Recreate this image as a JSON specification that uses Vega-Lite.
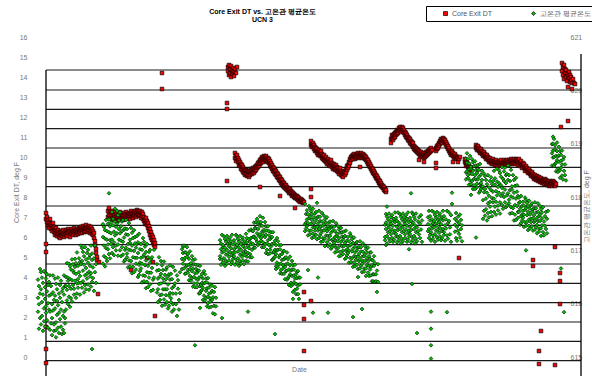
{
"$schema":"https://vega.github.io/schema/vega-lite/v6.json",
"width":535,"height":371,"autosize":"none",
"padding":{"left":46,"top":5,"right":11,"bottom":0},
"background":"white",
"config":{"view":{"stroke":null},"font":"Liberation Sans",
 "axis":{"labelColor":"#777","titleColor":"#777","labelFontSize":7,"titleFontSize":7,"titleFontWeight":"normal","grid":false},
 "axisX":{"labels":false,"ticks":false,"domain":false,"grid":false,"titleX":253,"titleY":-7,"titleBaseline":"middle"}},
"title":{"text":"Core Exit DT vs. 고온관 평균온도","subtitle":"UCN 3","frame":"group","fontSize":7,"subtitleFontSize":7,"subtitleFontWeight":"bold","color":"#000","subtitleColor":"#000","anchor":"middle","dx":-51,"offset":-18,"subtitlePadding":1,"font":"Liberation Sans","subtitleFont":"Liberation Sans"},
"datasets":{
"grid":[{"g":14.35},{"g":13.35},{"g":12.385},{"g":11.415},{"g":10.45},{"g":9.485},{"g":8.515},{"g":7.55},{"g":6.585},{"g":5.615},{"g":4.65},{"g":3.685},{"g":2.715},{"g":1.75},{"g":0.785},{"g":-0.185}],
"red":[
{"s":"C","d":0,"v":[7.2,6.9,5.65,5.25,1.5,0.4,-0.3]},
{"s":"C","d":1,"v":[6.75,7.0]},{"s":"C","d":2,"v":[6.55,6.85]},{"s":"C","d":3,"v":[6.7,6.45]},{"s":"C","d":4,"v":[6.6,6.9]},
{"s":"C","d":5,"v":[6.4,6.65]},{"s":"C","d":6,"v":[6.55,6.3]},{"s":"C","d":7,"v":[6.45,6.7]},{"s":"C","d":8,"v":[6.25,6.5]},
{"s":"C","d":9,"v":[6.35,6.1]},{"s":"C","d":10,"v":[6.2,6.45]},{"s":"C","d":11,"v":[6.05,6.3]},{"s":"C","d":12,"v":[6.15,6.35]},
{"s":"C","d":13,"v":[6.0,6.25]},{"s":"C","d":14,"v":[6.2,5.95]},{"s":"C","d":15,"v":[6.1,6.3]},{"s":"C","d":16,"v":[6.25,6.05]},
{"s":"C","d":17,"v":[6.15,6.35]},{"s":"C","d":18,"v":[6.0,6.2]},{"s":"C","d":19,"v":[6.3,6.1]},{"s":"C","d":20,"v":[6.15,6.35]},
{"s":"C","d":21,"v":[6.05,6.25]},{"s":"C","d":22,"v":[6.2,6.4]},{"s":"C","d":23,"v":[6.1,6.3]},{"s":"C","d":24,"v":[6.25,6.0]},
{"s":"C","d":25,"v":[6.35,6.15]},{"s":"C","d":26,"v":[6.2,6.4]},{"s":"C","d":27,"v":[6.1,6.3]},{"s":"C","d":28,"v":[6.25,6.45]},
{"s":"C","d":29,"v":[6.15,6.35]},{"s":"C","d":30,"v":[6.3,6.1]},{"s":"C","d":31,"v":[6.2,6.4]},{"s":"C","d":32,"v":[6.35,6.15]},
{"s":"C","d":33,"v":[6.25,6.45]},{"s":"C","d":34,"v":[6.4,6.2]},{"s":"C","d":35,"v":[6.3,6.5]},{"s":"C","d":36,"v":[6.2,6.4]},
{"s":"C","d":37,"v":[6.35,6.55]},{"s":"C","d":38,"v":[6.45,6.25]},{"s":"C","d":39,"v":[6.3,6.5]},{"s":"C","d":40,"v":[6.4,6.6]},
{"s":"C","d":41,"v":[6.25,6.45]},{"s":"C","d":42,"v":[6.5,6.3]},{"s":"C","d":43,"v":[6.35,6.55]},{"s":"C","d":44,"v":[6.45,6.2]},
{"s":"C","d":45,"v":[6.3,6.5]},{"s":"C","d":46,"v":[6.4,6.15]},{"s":"C","d":47,"v":[6.3,6.1]},{"s":"C","d":48,"v":[6.2,5.95]},
{"s":"C","d":49,"v":[5.8,5.6]},{"s":"C","d":50,"v":[5.4,5.2]},{"s":"C","d":51,"v":[5.0,4.85]},{"s":"C","d":52,"v":[3.15]},{"s":"C","d":53,"v":[4.75]},
{"s":"C","d":62,"v":[7.3,7.0]},{"s":"C","d":63,"v":[7.45,7.1]},{"s":"C","d":64,"v":[6.95,7.25]},{"s":"C","d":65,"v":[7.15,6.9]},
{"s":"C","d":66,"v":[7.3,7.05]},{"s":"C","d":67,"v":[6.95,7.2]},{"s":"C","d":68,"v":[7.1,6.85]},{"s":"C","d":69,"v":[7.25,7.0]},
{"s":"C","d":70,"v":[6.9,7.15]},{"s":"C","d":71,"v":[7.05,6.8]},{"s":"C","d":72,"v":[7.2,6.95]},{"s":"C","d":73,"v":[6.85,7.1]},
{"s":"C","d":74,"v":[7.0,7.25]},{"s":"C","d":75,"v":[7.15,6.9]},{"s":"C","d":76,"v":[6.95,7.1]},{"s":"C","d":77,"v":[7.05,6.85]},
{"s":"C","d":78,"v":[7.2,6.95]},{"s":"C","d":79,"v":[6.9,7.1]},{"s":"C","d":80,"v":[7.0,7.25]},{"s":"C","d":81,"v":[7.15,6.9]},
{"s":"C","d":82,"v":[6.95,7.1]},{"s":"C","d":83,"v":[7.05,7.2]},{"s":"C","d":84,"v":[6.9,7.15]},{"s":"C","d":85,"v":[7.1,7.3,4.35]},
{"s":"C","d":86,"v":[7.0,7.2]},{"s":"C","d":87,"v":[7.15,6.95]},{"s":"C","d":88,"v":[7.25,7.05]},{"s":"C","d":89,"v":[7.1,7.3]},
{"s":"C","d":90,"v":[7.2,7.0]},{"s":"C","d":91,"v":[7.35,7.1]},{"s":"C","d":92,"v":[7.15,7.3]},{"s":"C","d":93,"v":[7.25,7.05]},
{"s":"C","d":94,"v":[7.1,7.3]},{"s":"C","d":95,"v":[7.2,6.95]},{"s":"C","d":96,"v":[7.05,7.25]},{"s":"C","d":97,"v":[6.9,7.15]},
{"s":"C","d":98,"v":[7.0,6.8]},{"s":"C","d":99,"v":[6.85,6.65]},{"s":"C","d":100,"v":[6.95,6.7]},{"s":"C","d":101,"v":[6.6,6.8,4.95]},
{"s":"C","d":102,"v":[6.45,6.7]},{"s":"C","d":103,"v":[6.3,6.55]},{"s":"C","d":104,"v":[6.1,6.4]},{"s":"C","d":105,"v":[5.95,6.25]},
{"s":"C","d":106,"v":[6.1,5.85]},{"s":"C","d":107,"v":[5.75,6.0,4.75]},{"s":"C","d":108,"v":[5.6,5.85]},{"s":"C","d":109,"v":[5.5,5.7,2.05]},
{"s":"C","d":116,"v":[14.2,13.4]},
{"s":"C","d":181,"v":[12.7,12.4,8.8]},{"s":"C","d":182,"v":[14.5,14.3]},{"s":"C","d":183,"v":[14.6,14.1]},{"s":"C","d":184,"v":[14.4,14.2]},
{"s":"C","d":185,"v":[14.55,14.0]},{"s":"C","d":186,"v":[14.35,14.15]},{"s":"C","d":187,"v":[14.45,14.25]},{"s":"C","d":188,"v":[14.05,14.3]},
{"s":"C","d":189,"v":[10.2,9.95,14.4]},{"s":"C","d":190,"v":[10.05,9.8,14.2]},{"s":"C","d":191,"v":[9.9,10.1,14.5]},
{"s":"C","d":192,"v":[9.75,9.95]},{"s":"C","d":193,"v":[9.85,9.6]},{"s":"C","d":194,"v":[9.55,9.75]},{"s":"C","d":195,"v":[9.65,9.4]},
{"s":"C","d":196,"v":[9.35,9.6]},{"s":"C","d":197,"v":[9.5,9.25]},{"s":"C","d":198,"v":[9.2,9.4]},{"s":"C","d":199,"v":[9.35,9.1]},
{"s":"C","d":200,"v":[9.15,9.35]},{"s":"C","d":201,"v":[9.3,9.05]},{"s":"C","d":202,"v":[9.1,9.3]},{"s":"C","d":203,"v":[9.25,9.0]},
{"s":"C","d":204,"v":[9.1,9.3]},{"s":"C","d":205,"v":[9.2,9.4]},{"s":"C","d":206,"v":[9.35,9.15]},{"s":"C","d":207,"v":[9.25,9.45]},
{"s":"C","d":208,"v":[9.4,9.2]},{"s":"C","d":209,"v":[9.5,9.3]},{"s":"C","d":210,"v":[9.35,9.55]},{"s":"C","d":211,"v":[9.6,9.45]},
{"s":"C","d":212,"v":[9.5,9.7]},{"s":"C","d":213,"v":[9.75,9.55]},{"s":"C","d":214,"v":[9.65,9.85,8.5]},{"s":"C","d":215,"v":[9.9,9.7]},
{"s":"C","d":216,"v":[9.8,10.0]},{"s":"C","d":217,"v":[9.95,9.75]},{"s":"C","d":218,"v":[10.05,9.85]},{"s":"C","d":219,"v":[9.9,10.0]},
{"s":"C","d":220,"v":[9.85,10.05]},{"s":"C","d":221,"v":[9.95,9.75]},{"s":"C","d":222,"v":[9.8,9.95]},{"s":"C","d":223,"v":[9.7,9.9]},
{"s":"C","d":224,"v":[9.6,9.8]},{"s":"C","d":225,"v":[9.7,9.5]},{"s":"C","d":226,"v":[9.4,9.6]},{"s":"C","d":227,"v":[9.5,9.3]},
{"s":"C","d":228,"v":[9.25,9.45]},{"s":"C","d":229,"v":[9.35,9.15]},{"s":"C","d":230,"v":[9.1,9.3]},{"s":"C","d":231,"v":[9.2,9.0]},
{"s":"C","d":232,"v":[8.95,9.15]},{"s":"C","d":233,"v":[9.05,8.85]},{"s":"C","d":234,"v":[8.8,9.0,8.05]},{"s":"C","d":235,"v":[8.9,8.7]},
{"s":"C","d":236,"v":[8.65,8.85]},{"s":"C","d":237,"v":[8.75,8.55]},{"s":"C","d":238,"v":[8.5,8.7]},{"s":"C","d":239,"v":[8.6,8.45]},
{"s":"C","d":240,"v":[8.4,8.6]},{"s":"C","d":241,"v":[8.5,8.35]},{"s":"C","d":242,"v":[8.3,8.45]},{"s":"C","d":243,"v":[8.4,8.2]},
{"s":"C","d":244,"v":[8.25,8.4]},{"s":"C","d":245,"v":[8.15,8.3]},{"s":"C","d":246,"v":[8.25,8.05]},{"s":"C","d":247,"v":[8.1,8.2]},
{"s":"C","d":248,"v":[8.0,8.15]},{"s":"C","d":249,"v":[8.1,7.95,7.45]},{"s":"C","d":250,"v":[7.95,8.05]},{"s":"C","d":251,"v":[7.9,8.05]},
{"s":"C","d":252,"v":[7.85,8.0]},{"s":"C","d":253,"v":[7.95,7.8]},{"s":"C","d":254,"v":[7.85,7.75]},{"s":"C","d":255,"v":[7.9,7.8]},
{"s":"C","d":256,"v":[7.75,7.85]},{"s":"C","d":257,"v":[7.8,7.7]},{"s":"C","d":258,"v":[7.75,3.25,2.6,1.9,0.3]},
{"s":"C","d":265,"v":[10.8,10.6,8.4,8.0,2.8]},{"s":"C","d":266,"v":[10.65,10.5]},{"s":"C","d":267,"v":[10.55,10.7]},{"s":"C","d":268,"v":[10.4,10.6]},
{"s":"C","d":269,"v":[10.5,10.3]},{"s":"C","d":270,"v":[10.35,10.45]},{"s":"C","d":271,"v":[10.2,10.4]},{"s":"C","d":272,"v":[10.3,10.1]},
{"s":"C","d":273,"v":[10.15,10.35]},{"s":"C","d":274,"v":[10.25,10.05]},{"s":"C","d":275,"v":[10.1,10.3]},{"s":"C","d":276,"v":[9.95,10.15]},
{"s":"C","d":277,"v":[10.05,9.9]},{"s":"C","d":278,"v":[9.85,10.1]},{"s":"C","d":279,"v":[9.95,9.8]},{"s":"C","d":280,"v":[9.75,10.0]},
{"s":"C","d":281,"v":[9.85,9.65]},{"s":"C","d":282,"v":[9.9,9.7]},{"s":"C","d":283,"v":[9.6,9.8]},{"s":"C","d":284,"v":[9.75,9.55]},
{"s":"C","d":285,"v":[9.65,9.85]},{"s":"C","d":286,"v":[9.5,9.7]},{"s":"C","d":287,"v":[9.6,9.4]},{"s":"C","d":288,"v":[9.45,9.65]},
{"s":"C","d":289,"v":[9.55,9.35]},{"s":"C","d":290,"v":[9.4,9.6]},{"s":"C","d":291,"v":[9.3,9.5]},{"s":"C","d":292,"v":[9.45,9.25]},
{"s":"C","d":293,"v":[9.35,9.15]},{"s":"C","d":294,"v":[9.25,9.45]},{"s":"C","d":295,"v":[9.1,9.3]},{"s":"C","d":296,"v":[9.2,9.05]},
{"s":"C","d":297,"v":[9.0,9.25]},{"s":"C","d":298,"v":[9.15,9.3]},{"s":"C","d":299,"v":[9.1,9.25]},{"s":"C","d":300,"v":[9.4,9.2]},
{"s":"C","d":301,"v":[9.35,9.55]},{"s":"C","d":302,"v":[9.6,9.45]},{"s":"C","d":303,"v":[9.75,9.55]},{"s":"C","d":304,"v":[9.7,9.9]},
{"s":"C","d":305,"v":[9.85,10.0]},{"s":"C","d":306,"v":[9.95,10.05]},{"s":"C","d":307,"v":[9.9,10.1]},{"s":"C","d":308,"v":[10.0,10.15]},
{"s":"C","d":309,"v":[10.05,9.9]},{"s":"C","d":310,"v":[10.1,9.95]},{"s":"C","d":311,"v":[10.15,10.0]},{"s":"C","d":312,"v":[10.05,10.2]},
{"s":"C","d":313,"v":[10.1,9.95]},{"s":"C","d":314,"v":[10.15,10.0,9.5]},{"s":"C","d":315,"v":[10.05,10.2]},{"s":"C","d":316,"v":[10.1,9.95]},
{"s":"C","d":317,"v":[10.0,10.15]},{"s":"C","d":318,"v":[9.95,10.1]},{"s":"C","d":319,"v":[9.9,10.05]},{"s":"C","d":320,"v":[9.85,10.0]},
{"s":"C","d":321,"v":[9.75,9.9]},{"s":"C","d":322,"v":[9.65,9.85]},{"s":"C","d":323,"v":[9.55,9.75]},{"s":"C","d":324,"v":[9.5,9.65]},
{"s":"C","d":325,"v":[9.4,9.55]},{"s":"C","d":326,"v":[9.3,9.45]},{"s":"C","d":327,"v":[9.2,9.4]},{"s":"C","d":328,"v":[9.15,9.3]},
{"s":"C","d":329,"v":[9.05,9.2]},{"s":"C","d":330,"v":[8.95,9.1]},{"s":"C","d":331,"v":[8.9,9.05]},{"s":"C","d":332,"v":[8.8,8.95]},
{"s":"C","d":333,"v":[8.7,8.85]},{"s":"C","d":334,"v":[8.65,8.8]},{"s":"C","d":335,"v":[8.55,8.7]},{"s":"C","d":336,"v":[8.5,8.6]},
{"s":"C","d":337,"v":[8.45,8.55]},{"s":"C","d":338,"v":[8.35,8.5]},{"s":"C","d":339,"v":[8.3,8.4]},{"s":"C","d":340,"v":[8.25,8.35]},
{"s":"C","d":345,"v":[10.9,10.7]},{"s":"C","d":346,"v":[10.95,11.1]},{"s":"C","d":347,"v":[10.85,11.05]},{"s":"C","d":348,"v":[11.15,10.95]},
{"s":"C","d":349,"v":[11.0,11.2]},{"s":"C","d":350,"v":[11.25,11.1]},{"s":"C","d":351,"v":[11.15,11.35]},{"s":"C","d":352,"v":[11.3,11.2]},
{"s":"C","d":353,"v":[11.45,11.3]},{"s":"C","d":354,"v":[11.35,11.5]},{"s":"C","d":355,"v":[11.4,11.25]},{"s":"C","d":356,"v":[11.5,11.35]},
{"s":"C","d":357,"v":[11.3,11.45]},{"s":"C","d":358,"v":[11.2,11.35]},{"s":"C","d":359,"v":[11.25,11.1]},{"s":"C","d":360,"v":[11.0,11.2]},
{"s":"C","d":361,"v":[11.1,10.95]},{"s":"C","d":362,"v":[10.85,11.0]},{"s":"C","d":363,"v":[10.95,10.8]},{"s":"C","d":364,"v":[10.7,10.9]},
{"s":"C","d":365,"v":[10.8,10.65]},{"s":"C","d":366,"v":[10.6,10.75]},{"s":"C","d":367,"v":[10.5,10.7]},{"s":"C","d":368,"v":[10.55,10.4]},
{"s":"C","d":369,"v":[10.35,10.5]},{"s":"C","d":370,"v":[10.45,10.3]},{"s":"C","d":371,"v":[10.25,10.4]},{"s":"C","d":372,"v":[10.35,10.2]},
{"s":"C","d":373,"v":[10.15,10.3,9.85]},{"s":"C","d":374,"v":[10.2,10.05]},{"s":"C","d":375,"v":[10.1,10.25]},{"s":"C","d":376,"v":[10.15,10.0]},
{"s":"C","d":377,"v":[10.05,10.2]},{"s":"C","d":378,"v":[10.1,9.95,9.75]},{"s":"C","d":379,"v":[10.15,10.0]},{"s":"C","d":380,"v":[10.05,10.25]},
{"s":"C","d":381,"v":[10.2,10.1]},{"s":"C","d":382,"v":[10.3,10.15]},{"s":"C","d":383,"v":[10.2,10.35]},{"s":"C","d":384,"v":[10.4,10.25]},
{"s":"C","d":385,"v":[10.3,10.45]},{"s":"C","d":386,"v":[10.35]},
{"s":"C","d":390,"v":[10.45,10.3,9.7,9.45]},{"s":"C","d":391,"v":[10.55,10.4]},{"s":"C","d":392,"v":[10.6,10.45]},{"s":"C","d":393,"v":[10.7,10.55]},
{"s":"C","d":394,"v":[10.65,10.8]},{"s":"C","d":395,"v":[10.75,10.9]},{"s":"C","d":396,"v":[10.85,10.7]},{"s":"C","d":397,"v":[10.95,10.8]},
{"s":"C","d":398,"v":[10.8,10.9]},{"s":"C","d":399,"v":[10.85,10.7]},{"s":"C","d":400,"v":[10.75,10.6]},{"s":"C","d":401,"v":[10.65,10.5]},
{"s":"C","d":402,"v":[10.55,10.4]},{"s":"C","d":403,"v":[10.45,10.3]},{"s":"C","d":404,"v":[10.35,10.2]},{"s":"C","d":405,"v":[10.25,10.1]},
{"s":"C","d":406,"v":[10.15,10.3]},{"s":"C","d":407,"v":[10.05,10.2,9.75]},{"s":"C","d":408,"v":[10.1,9.95]},{"s":"C","d":409,"v":[10.0,10.15]},
{"s":"C","d":410,"v":[9.95,10.05]},{"s":"C","d":411,"v":[10.0,9.9]},{"s":"C","d":412,"v":[9.95,9.75]},{"s":"C","d":413,"v":[9.9,4.95]},{"s":"C","d":414,"v":[10.0]},
{"s":"C","d":419,"v":[9.75,9.9]},{"s":"C","d":420,"v":[9.7,9.55]},{"s":"C","d":421,"v":[9.6,9.75]},{"s":"C","d":422,"v":[9.5,9.65]},
{"s":"C","d":423,"v":[9.4,9.55]},{"s":"C","d":424,"v":[9.35,9.5]},{"s":"C","d":425,"v":[9.45]},
{"s":"C","d":430,"v":[10.6,10.45]},{"s":"C","d":431,"v":[10.5,10.35]},{"s":"C","d":432,"v":[10.4,10.55]},{"s":"C","d":433,"v":[10.3,10.45]},
{"s":"C","d":434,"v":[10.35,10.2]},{"s":"C","d":435,"v":[10.25,10.4]},{"s":"C","d":436,"v":[10.15,10.3]},{"s":"C","d":437,"v":[10.2,10.05]},
{"s":"C","d":438,"v":[10.1,10.25]},{"s":"C","d":439,"v":[10.0,10.15]},{"s":"C","d":440,"v":[10.05,9.9]},{"s":"C","d":441,"v":[9.95,10.1]},
{"s":"C","d":442,"v":[9.85,10.0]},{"s":"C","d":443,"v":[9.9,9.75]},{"s":"C","d":444,"v":[9.8,9.95]},{"s":"C","d":445,"v":[9.7,9.85]},
{"s":"C","d":446,"v":[9.8,9.65]},{"s":"C","d":447,"v":[9.75,9.9]},{"s":"C","d":448,"v":[9.65,9.8]},{"s":"C","d":449,"v":[9.75,9.6]},
{"s":"C","d":450,"v":[9.7,9.85]},{"s":"C","d":451,"v":[9.6,9.75]},{"s":"C","d":452,"v":[9.7,9.55]},{"s":"C","d":453,"v":[9.8,9.65]},
{"s":"C","d":454,"v":[9.6,9.75]},{"s":"C","d":455,"v":[9.7,9.85]},{"s":"C","d":456,"v":[9.65,9.55]},{"s":"C","d":457,"v":[9.75,9.6]},
{"s":"C","d":458,"v":[9.7,9.85]},{"s":"C","d":459,"v":[9.6,9.75]},{"s":"C","d":460,"v":[9.8,9.65]},{"s":"C","d":461,"v":[9.7,9.85]},
{"s":"C","d":462,"v":[9.75,9.6]},{"s":"C","d":463,"v":[9.85,9.7]},{"s":"C","d":464,"v":[9.65,9.8]},{"s":"C","d":465,"v":[9.75,9.9]},
{"s":"C","d":466,"v":[9.8,9.65]},{"s":"C","d":467,"v":[9.7,9.85]},{"s":"C","d":468,"v":[9.9,9.75]},{"s":"C","d":469,"v":[9.8,9.65]},
{"s":"C","d":470,"v":[9.75,9.9]},{"s":"C","d":471,"v":[9.7,9.85]},{"s":"C","d":472,"v":[9.8,9.6]},{"s":"C","d":473,"v":[9.75,9.9]},
{"s":"C","d":474,"v":[9.7,9.55]},{"s":"C","d":475,"v":[9.65,9.8]},{"s":"C","d":476,"v":[9.6,9.45]},{"s":"C","d":477,"v":[9.55,9.7]},
{"s":"C","d":478,"v":[9.5,9.65]},{"s":"C","d":479,"v":[9.45,9.3]},{"s":"C","d":480,"v":[9.4,9.55]},{"s":"C","d":481,"v":[9.3,9.45]},
{"s":"C","d":482,"v":[9.35,9.2]},{"s":"C","d":483,"v":[9.25,9.4]},{"s":"C","d":484,"v":[9.15,9.3]},{"s":"C","d":485,"v":[9.2,9.05]},
{"s":"C","d":486,"v":[9.1,9.25]},{"s":"C","d":487,"v":[9.0,9.15,4.85,4.55]},{"s":"C","d":488,"v":[9.05,8.9]},{"s":"C","d":489,"v":[8.95,9.1]},
{"s":"C","d":490,"v":[9.0,8.85]},{"s":"C","d":491,"v":[8.9,9.05]},{"s":"C","d":492,"v":[8.8,8.95]},{"s":"C","d":493,"v":[8.85,9.0,0.3,-0.35]},
{"s":"C","d":494,"v":[8.9,8.75]},{"s":"C","d":495,"v":[8.8,8.95,1.3]},{"s":"C","d":496,"v":[8.7,8.85]},{"s":"C","d":497,"v":[8.85,8.75]},
{"s":"C","d":498,"v":[8.8,8.65]},{"s":"C","d":499,"v":[8.75,8.9]},{"s":"C","d":500,"v":[8.7,8.85]},{"s":"C","d":501,"v":[8.6,8.8]},
{"s":"C","d":502,"v":[8.75,8.65]},{"s":"C","d":503,"v":[8.7,8.55]},{"s":"C","d":504,"v":[8.6,8.8]},{"s":"C","d":505,"v":[8.75,8.65]},
{"s":"C","d":506,"v":[8.55,8.7]},{"s":"C","d":507,"v":[8.65,8.8]},{"s":"C","d":508,"v":[8.6,8.75]},{"s":"C","d":509,"v":[8.7,8.55,5.5,-0.4]},
{"s":"C","d":510,"v":[8.65]},{"s":"C","d":514,"v":[4.2,3.8,2.65]},{"s":"C","d":515,"v":[11.5]},
{"s":"C","d":516,"v":[14.7,14.3]},{"s":"C","d":517,"v":[14.5,14.1]},{"s":"C","d":518,"v":[14.6,13.9]},{"s":"C","d":519,"v":[14.4,14.2]},
{"s":"C","d":520,"v":[14.0,14.35]},{"s":"C","d":521,"v":[13.8,14.15]},{"s":"C","d":522,"v":[13.5,11.8,14.05]},{"s":"C","d":523,"v":[13.95,14.25]},
{"s":"C","d":524,"v":[13.75,14.1]},{"s":"C","d":525,"v":[14.0,13.85]},{"s":"C","d":526,"v":[13.4,13.7]},{"s":"C","d":527,"v":[13.9]},
{"s":"C","d":528,"v":[13.7]},{"s":"C","d":529,"v":[13.65]}
],
"grn":[
{"s":"H","d":-8,"v":[616.45,615.85,616.11]},{"s":"H","d":-7,"v":[615.53,616.33,615.99]},{"s":"H","d":-6,"v":[616.65,615.73,616.19]},
{"s":"H","d":-5,"v":[615.61,616.27,616.59]},{"s":"H","d":-4,"v":[616.03,615.77,616.49]},{"s":"H","d":-3,"v":[615.49,616.17,616.39]},
{"s":"H","d":-2,"v":[615.91,615.67,616.61]},{"s":"H","d":-1,"v":[616.09,615.57,616.31]},{"s":"H","d":0,"v":[615.95,616.47,615.83,616.57]},
{"s":"H","d":1,"v":[616.23,615.69,616.55]},{"s":"H","d":2,"v":[616.01,616.35,615.55]},{"s":"H","d":3,"v":[616.15,616.41,615.89]},
{"s":"H","d":4,"v":[615.51,616.53,615.85]},{"s":"H","d":5,"v":[616.17,615.63,616.33]},{"s":"H","d":6,"v":[615.73,615.99,615.41]},
{"s":"H","d":7,"v":[616.21,615.87,616.53]},{"s":"H","d":8,"v":[615.61,616.07,615.49]},{"s":"H","d":9,"v":[616.15,616.47,615.91]},
{"s":"H","d":10,"v":[615.65,616.37,615.37,615.5]},{"s":"H","d":11,"v":[616.05,616.27,615.79]},{"s":"H","d":12,"v":[615.55,616.49,615.97]},
{"s":"H","d":13,"v":[615.45,616.19,615.83]},{"s":"H","d":14,"v":[616.35,615.71,616.11]},{"s":"H","d":15,"v":[615.57,616.43,615.89]},
{"s":"H","d":16,"v":[616.23,615.43,616.03]},{"s":"H","d":17,"v":[616.29,615.77,615.51]},{"s":"H","d":18,"v":[616.53,615.85,616.17,615.45]},
{"s":"H","d":19,"v":[615.63,616.33,615.73]},
{"s":"H","d":20,"v":[616.33,615.89,616.5]},{"s":"H","d":21,"v":[616.26,616.76,616.06]},{"s":"H","d":22,"v":[616.43,615.99,616.49]},
{"s":"H","d":23,"v":[616.75,616.33,616.13]},{"s":"H","d":24,"v":[616.7,615.94,616.46]},{"s":"H","d":25,"v":[616.64,616.28,616.1]},
{"s":"H","d":26,"v":[616.83,616.44,616.04]},{"s":"H","d":27,"v":[616.62,616.35,616.74]},{"s":"H","d":28,"v":[616.28,616.58,616.17]},
{"s":"H","d":29,"v":[616.84,616.43,616.69]},{"s":"H","d":30,"v":[616.11,616.56,616.76]},{"s":"H","d":31,"v":[616.38,616.19,616.96]},
{"s":"H","d":32,"v":[616.46,616.71,616.3]},{"s":"H","d":33,"v":[616.85,616.39,616.59]},{"s":"H","d":34,"v":[616.17,616.78,616.52]},
{"s":"H","d":35,"v":[617.09,616.39,616.74]},{"s":"H","d":36,"v":[616.3,616.8,617.04]},{"s":"H","d":37,"v":[616.62,616.42,616.97]},
{"s":"H","d":38,"v":[616.21,616.73,616.89]},{"s":"H","d":39,"v":[616.53,616.35,617.06]},{"s":"H","d":40,"v":[616.67,616.27,616.83]},
{"s":"H","d":41,"v":[616.56,616.95,616.47]},{"s":"H","d":42,"v":[616.77,616.36,617.01]},{"s":"H","d":43,"v":[616.6,616.86,616.26]},
{"s":"H","d":44,"v":[616.71,616.91,616.51]},{"s":"H","d":45,"v":[616.32,617.09,616.57]},{"s":"H","d":46,"v":[616.82,616.41,616.94,615.15]},
{"s":"H","d":47,"v":[616.48,616.68]},{"s":"H","d":48,"v":[616.24,616.85]},{"s":"H","d":49,"v":[616.59,617.09]},{"s":"H","d":50,"v":[616.39,616.74]},
{"s":"H","d":57,"v":[616.75,617.25,617.49]},{"s":"H","d":58,"v":[617.09,616.89,617.44]},{"s":"H","d":59,"v":[616.7,617.22,617.38]},
{"s":"H","d":60,"v":[617.04,616.86,617.57]},{"s":"H","d":61,"v":[617.2,616.8,617.36]},{"s":"H","d":62,"v":[617.11,617.5,617.02]},
{"s":"H","d":63,"v":[617.34,616.93,617.58,618.07]},{"s":"H","d":64,"v":[617.19,617.45,616.85]},{"s":"H","d":65,"v":[617.32,617.52,617.12]},
{"s":"H","d":66,"v":[616.95,617.72,617.2]},{"s":"H","d":67,"v":[617.47,617.06,617.59]},{"s":"H","d":68,"v":[617.15,617.35,616.91]},
{"s":"H","d":69,"v":[617.54,617.28,617.78]},{"s":"H","d":70,"v":[617.09,617.44,617.0]},{"s":"H","d":71,"v":[617.5,617.74,617.32]},
{"s":"H","d":72,"v":[617.11,617.66,616.9]},{"s":"H","d":73,"v":[617.4,617.56,617.2]},{"s":"H","d":74,"v":[617.0,617.71,617.32]},
{"s":"H","d":75,"v":[616.89,617.45,617.18]},{"s":"H","d":76,"v":[617.54,617.06,617.36]},{"s":"H","d":77,"v":[616.92,617.57,617.16]},
{"s":"H","d":78,"v":[617.39,616.79,617.24]},{"s":"H","d":79,"v":[617.41,617.01,616.82]},{"s":"H","d":80,"v":[617.57,617.05,617.3]},
{"s":"H","d":81,"v":[616.87,617.4,616.94]},{"s":"H","d":82,"v":[617.12,616.68,617.29]},{"s":"H","d":83,"v":[617.01,617.51,616.81]},
{"s":"H","d":84,"v":[617.14,616.7,617.2]},{"s":"H","d":85,"v":[617.42,617.0,616.8]},{"s":"H","d":86,"v":[617.33,616.57,617.09]},
{"s":"H","d":87,"v":[617.23,616.87,616.69]},{"s":"H","d":88,"v":[617.38,616.99,616.59]},{"s":"H","d":89,"v":[617.13,616.86,617.25]},
{"s":"H","d":90,"v":[616.75,617.05,616.64]},{"s":"H","d":91,"v":[617.27,616.86,617.12]},{"s":"H","d":92,"v":[616.5,616.95,617.15]},
{"s":"H","d":93,"v":[616.73,616.54,617.31]},{"s":"H","d":94,"v":[616.77,617.02,616.61]},{"s":"H","d":95,"v":[617.12,616.66,616.86]},
{"s":"H","d":96,"v":[616.4,617.01,616.75]},{"s":"H","d":97,"v":[617.23,616.53,616.88]},{"s":"H","d":98,"v":[616.42,616.92,617.16]},
{"s":"H","d":99,"v":[616.72,616.52,617.07]},{"s":"H","d":100,"v":[616.29,616.81,616.97]},{"s":"H","d":101,"v":[616.59,616.41,617.12]},
{"s":"H","d":102,"v":[616.71,616.31,616.87]},{"s":"H","d":103,"v":[616.58,616.97,616.49]},{"s":"H","d":104,"v":[616.77,616.36,617.01]},
{"s":"H","d":105,"v":[616.58,616.84,616.24]},{"s":"H","d":106,"v":[616.67,616.87]},{"s":"H","d":107,"v":[616.45,616.26]},{"s":"H","d":108,"v":[617.01,616.49]},
{"s":"H","d":111,"v":[616.62,616.21,616.74]},{"s":"H","d":112,"v":[616.27,616.47,616.03]},{"s":"H","d":113,"v":[616.63,616.37,616.87]},
{"s":"H","d":114,"v":[616.16,616.51,616.07]},{"s":"H","d":115,"v":[616.56,616.8,616.38]},{"s":"H","d":116,"v":[616.17,616.72,615.96]},
{"s":"H","d":117,"v":[616.47,616.63,616.27]},{"s":"H","d":118,"v":[616.08,616.79,616.4]},{"s":"H","d":119,"v":[615.98,616.54,616.27]},
{"s":"H","d":120,"v":[616.64,616.16,616.46]},{"s":"H","d":121,"v":[616.03,616.68,616.27]},{"s":"H","d":122,"v":[616.51,615.91,616.36]},
{"s":"H","d":123,"v":[616.55,616.15,615.96]},{"s":"H","d":124,"v":[616.72,616.2,616.45]},{"s":"H","d":125,"v":[616.03,616.56,616.1]},
{"s":"H","d":126,"v":[616.29,615.85,616.46]},{"s":"H","d":127,"v":[616.19,616.69,615.99]},{"s":"H","d":128,"v":[616.33,615.89]},
{"s":"H","d":129,"v":[616.38,616.62]},{"s":"H","d":130,"v":[616.19,615.99]},{"s":"H","d":131,"v":[616.53,615.77]},
{"s":"H","d":132,"v":[616.28,616.44]},{"s":"H","d":133,"v":[616.07,615.89]},{"s":"H","d":134,"v":[616.59,616.2]},
{"s":"H","d":136,"v":[616.65,617.02,616.84]},{"s":"H","d":137,"v":[617.07,616.75,616.95]},{"s":"H","d":138,"v":[616.66,617.09,616.82]},
{"s":"H","d":139,"v":[616.96,616.56,616.86]},{"s":"H","d":140,"v":[616.96,616.7,616.57]},{"s":"H","d":141,"v":[617.06,616.72,616.88]},
{"s":"H","d":142,"v":[616.58,616.93,616.63]},{"s":"H","d":143,"v":[616.73,616.44,616.84]},{"s":"H","d":144,"v":[616.65,616.98,616.52]},
{"s":"H","d":145,"v":[616.72,616.43,616.76]},{"s":"H","d":146,"v":[616.89,616.61,616.48]},{"s":"H","d":147,"v":[616.82,616.32,616.66]},
{"s":"H","d":148,"v":[616.74,616.5,616.38]},{"s":"H","d":149,"v":[616.83,616.57,616.31,615.22]},{"s":"H","d":150,"v":[616.65,616.47,616.73]},
{"s":"H","d":151,"v":[616.38,616.58,616.31]},{"s":"H","d":152,"v":[616.72,616.45,616.62]},{"s":"H","d":153,"v":[616.19,616.49,616.62]},
{"s":"H","d":154,"v":[616.33,616.2,616.71,615.92]},{"s":"H","d":155,"v":[616.35,616.51,616.24]},{"s":"H","d":156,"v":[616.56,616.26,616.39]},
{"s":"H","d":157,"v":[616.07,616.47,616.3]},{"s":"H","d":158,"v":[616.61,616.15,616.38]},{"s":"H","d":159,"v":[616.06,616.39,616.55]},
{"s":"H","d":160,"v":[616.24,616.11,616.47]},{"s":"H","d":161,"v":[615.95,616.29,616.4]},{"s":"H","d":162,"v":[616.13,616.01,616.48]},
{"s":"H","d":163,"v":[616.19,615.93,616.3]},{"s":"H","d":164,"v":[616.1,616.36,616.04]},{"s":"H","d":165,"v":[616.21,615.94]},
{"s":"H","d":166,"v":[616.34,616.07,616.24]},{"s":"H","d":167,"v":[615.82,616.12]},{"s":"H","d":168,"v":[616.22,615.96]},
{"s":"H","d":169,"v":[615.8,616.31]},{"s":"H","d":170,"v":[615.95,616.11]},
{"s":"H","d":174,"v":[616.84,617.19,616.89]},{"s":"H","d":175,"v":[617.02,616.73,617.13]},{"s":"H","d":176,"v":[616.96,617.29,616.83,615.73]},
{"s":"H","d":177,"v":[617.06,616.77,617.1]},{"s":"H","d":178,"v":[617.26,616.98,616.85]},{"s":"H","d":179,"v":[617.21,616.71,617.05]},
{"s":"H","d":180,"v":[617.16,616.92,616.8]},{"s":"H","d":181,"v":[617.27,617.01,616.75]},{"s":"H","d":182,"v":[617.12,616.94,617.2]},
{"s":"H","d":183,"v":[616.88,617.08,616.81]},{"s":"H","d":184,"v":[617.24,616.97,617.14]},{"s":"H","d":185,"v":[616.74,617.04,617.17]},
{"s":"H","d":186,"v":[616.91,616.78,617.29]},{"s":"H","d":187,"v":[616.95,617.11,616.84]},{"s":"H","d":188,"v":[617.19,616.89,617.02]},
{"s":"H","d":189,"v":[616.73,617.13,616.96]},{"s":"H","d":190,"v":[617.29,616.83,617.06]},{"s":"H","d":191,"v":[616.77,617.1,617.26]},
{"s":"H","d":192,"v":[616.98,616.85,617.21]},{"s":"H","d":193,"v":[616.71,617.05,617.16]},{"s":"H","d":194,"v":[616.92,616.8,617.27]},
{"s":"H","d":195,"v":[617.01,616.75,617.12]},{"s":"H","d":196,"v":[616.94,617.2,616.88]},{"s":"H","d":197,"v":[617.08,616.81,617.24]},
{"s":"H","d":198,"v":[616.97,617.14,616.74]},{"s":"H","d":199,"v":[617.04,617.17,616.91]},{"s":"H","d":200,"v":[616.8,617.31,616.97]},
{"s":"H","d":201,"v":[617.15,616.88,617.23]},{"s":"H","d":202,"v":[616.95,617.08,616.79,615.85]},{"s":"H","d":203,"v":[617.21,617.04,617.37]},
{"s":"H","d":204,"v":[616.93,617.16,616.87]},{"s":"H","d":205,"v":[617.23,617.39,617.11]},{"s":"H","d":206,"v":[617.01,617.37,616.87]},
{"s":"H","d":207,"v":[617.25,617.36,617.12]},{"s":"H","d":208,"v":[617.05,617.52,617.26]},{"s":"H","d":209,"v":[617.05,617.42,617.24]},
{"s":"H","d":210,"v":[617.53,617.21,617.41]},{"s":"H","d":211,"v":[617.16,617.59,617.32]},{"s":"H","d":212,"v":[617.5,617.1,617.4]},
{"s":"H","d":213,"v":[617.53,617.27,617.14]},{"s":"H","d":214,"v":[617.64,617.3,617.46]},{"s":"H","d":215,"v":[617.18,617.53,617.23]},
{"s":"H","d":216,"v":[617.35,617.06,617.46]},
{"s":"H","d":217,"v":[617.28,617.61,617.15]},{"s":"H","d":218,"v":[617.35,617.06,617.39]},{"s":"H","d":219,"v":[617.53,617.25,617.12]},
{"s":"H","d":220,"v":[617.45,616.95,617.29]},{"s":"H","d":221,"v":[617.37,617.13,617.01]},{"s":"H","d":222,"v":[617.45,617.19,616.93]},
{"s":"H","d":223,"v":[617.28,617.1,617.36]},{"s":"H","d":224,"v":[617.01,617.21,616.94]},{"s":"H","d":225,"v":[617.34,617.07,617.24]},
{"s":"H","d":226,"v":[616.82,617.12,617.25]},{"s":"H","d":227,"v":[616.96,616.83,617.34]},{"s":"H","d":228,"v":[616.97,617.13,616.86]},
{"s":"H","d":229,"v":[617.18,616.88,617.01,615.43]},{"s":"H","d":230,"v":[616.7,617.1,616.93,616.65]},{"s":"H","d":231,"v":[617.23,616.77,617.0]},
{"s":"H","d":232,"v":[616.68,617.01,617.17]},{"s":"H","d":233,"v":[616.87,616.74,617.1]},{"s":"H","d":234,"v":[616.57,616.91,617.02]},
{"s":"H","d":235,"v":[616.75,616.63,617.1]},{"s":"H","d":236,"v":[616.82,616.56,616.93]},{"s":"H","d":237,"v":[616.72,616.98,616.66]},
{"s":"H","d":238,"v":[616.83,616.56,616.99]},{"s":"H","d":239,"v":[616.69,616.86,616.46]},{"s":"H","d":240,"v":[616.74,616.87,616.61]},
{"s":"H","d":241,"v":[616.45,616.96,616.62]},{"s":"H","d":242,"v":[616.75,616.48,616.83]},{"s":"H","d":243,"v":[616.51,616.64,616.35]},
{"s":"H","d":244,"v":[616.72,616.55,616.88]},{"s":"H","d":245,"v":[616.39,616.62,616.33]},{"s":"H","d":246,"v":[616.64,616.8,616.52]},
{"s":"H","d":247,"v":[616.36,616.72,616.22,616.09]},{"s":"H","d":248,"v":[616.53,616.64,616.4]},{"s":"H","d":249,"v":[616.26,616.73,616.47]},
{"s":"H","d":250,"v":[616.18,616.55,616.37]},{"s":"H","d":251,"v":[616.6,616.28,616.48]},{"s":"H","d":252,"v":[616.18,616.61,616.34]},
{"s":"H","d":253,"v":[616.49,616.09]},{"s":"H","d":254,"v":[616.36,616.49]},
{"s":"H","d":259,"v":[617.49,617.36,617.87]},{"s":"H","d":260,"v":[617.52,617.68,617.41]},{"s":"H","d":261,"v":[617.75,617.45,617.58]},
{"s":"H","d":262,"v":[617.28,617.68,617.51,616.63]},{"s":"H","d":263,"v":[617.83,617.37,617.6]},{"s":"H","d":264,"v":[617.3,617.63,617.79]},
{"s":"H","d":265,"v":[617.5,617.37,617.73]},{"s":"H","d":266,"v":[617.23,617.57,617.68]},{"s":"H","d":267,"v":[617.43,617.31,617.78,615.83]},
{"s":"H","d":268,"v":[617.51,617.25,617.62]},{"s":"H","d":269,"v":[617.43,617.69,617.37]},{"s":"H","d":270,"v":[617.56,617.29,617.72]},
{"s":"H","d":271,"v":[617.44,617.61,617.21,617.89]},{"s":"H","d":272,"v":[617.5,617.63,617.37,616.49]},{"s":"H","d":273,"v":[617.23,617.74,617.4]},
{"s":"H","d":274,"v":[617.55,617.28,617.63]},{"s":"H","d":275,"v":[617.32,617.45,617.16]},{"s":"H","d":276,"v":[617.54,617.37,617.7]},
{"s":"H","d":277,"v":[617.23,617.46,617.17]},{"s":"H","d":278,"v":[617.49,617.65,617.37]},{"s":"H","d":279,"v":[617.22,617.58,617.08]},
{"s":"H","d":280,"v":[617.41,617.52,617.28]},{"s":"H","d":281,"v":[617.15,617.62,617.36]},{"s":"H","d":282,"v":[617.08,617.45,617.27,615.83]},
{"s":"H","d":283,"v":[617.52,617.2,617.4]},{"s":"H","d":284,"v":[617.11,617.54,617.27]},{"s":"H","d":285,"v":[617.43,617.03,617.33]},
{"s":"H","d":286,"v":[617.45,617.19,617.06]},{"s":"H","d":287,"v":[617.55,617.21,617.37]},{"s":"H","d":288,"v":[617.09,617.44,617.14]},
{"s":"H","d":289,"v":[617.25,616.96,617.36]},{"s":"H","d":290,"v":[617.18,617.51,617.05]},{"s":"H","d":291,"v":[617.27,616.98,617.31]},
{"s":"H","d":292,"v":[617.45,617.17,617.04]},{"s":"H","d":293,"v":[617.39,616.89,617.23]},{"s":"H","d":294,"v":[617.33,617.09,616.97]},
{"s":"H","d":295,"v":[617.42,617.16,616.9]},{"s":"H","d":296,"v":[617.26,617.08,617.34]},{"s":"H","d":297,"v":[617.0,617.2,616.93]},
{"s":"H","d":298,"v":[617.35,617.08,617.25]},{"s":"H","d":299,"v":[616.84,617.14,617.27]},{"s":"H","d":300,"v":[616.99,616.86,617.37]},
{"s":"H","d":301,"v":[617.02,617.18,616.91]},{"s":"H","d":302,"v":[617.25,616.95,617.08]},{"s":"H","d":303,"v":[616.77,617.17,617.0]},
{"s":"H","d":304,"v":[617.32,616.86,617.09]},{"s":"H","d":305,"v":[616.78,617.11,617.27]},{"s":"H","d":306,"v":[616.98,616.85,617.21]},
{"s":"H","d":307,"v":[616.69,617.03,617.14,615.75]},{"s":"H","d":308,"v":[616.89,616.77,617.24]},{"s":"H","d":309,"v":[616.96,616.7,617.07]},
{"s":"H","d":310,"v":[616.88,617.14,616.82]},{"s":"H","d":311,"v":[617.0,616.73,617.16]},{"s":"H","d":312,"v":[616.88,617.05,616.65,616.5]},
{"s":"H","d":313,"v":[616.93,617.06,616.8]},{"s":"H","d":314,"v":[616.66,617.17,616.83]},{"s":"H","d":315,"v":[616.98,616.71,617.06]},
{"s":"H","d":316,"v":[616.75,616.88,616.59,615.9]},{"s":"H","d":317,"v":[616.97,616.8,617.13]},{"s":"H","d":318,"v":[616.66,616.89,616.6]},
{"s":"H","d":319,"v":[616.92,617.08,616.8]},{"s":"H","d":320,"v":[616.66,617.02,616.52]},{"s":"H","d":321,"v":[616.85,616.96,616.72]},
{"s":"H","d":322,"v":[616.58,617.05,616.79]},{"s":"H","d":323,"v":[616.52,616.89,616.71]},{"s":"H","d":324,"v":[616.96,616.64,616.84]},
{"s":"H","d":325,"v":[616.53,616.96,616.69]},{"s":"H","d":326,"v":[616.82,616.42,616.72]},{"s":"H","d":327,"v":[616.81,616.55,616.42]},
{"s":"H","d":328,"v":[616.89,616.55,616.71]},{"s":"H","d":329,"v":[616.41,616.76]},{"s":"H","d":330,"v":[616.42,616.55]},
{"s":"H","d":331,"v":[616.22,616.62]},{"s":"H","d":332,"v":[616.41,616.74]},
{"s":"H","d":339,"v":[617.25,617.48,617.19]},{"s":"H","d":340,"v":[617.52,617.68,617.4,617.1]},{"s":"H","d":341,"v":[617.27,617.63,617.13,617.82]},
{"s":"H","d":342,"v":[617.47,617.58,617.34]},{"s":"H","d":343,"v":[617.22,617.69,617.43]},{"s":"H","d":344,"v":[617.17,617.54,617.36]},
{"s":"H","d":345,"v":[617.62,617.3,617.5]},{"s":"H","d":346,"v":[617.23,617.66,617.39]},{"s":"H","d":347,"v":[617.56,617.16,617.46]},
{"s":"H","d":348,"v":[617.59,617.33,617.2]},{"s":"H","d":349,"v":[617.71,617.37,617.53]},{"s":"H","d":350,"v":[617.26,617.61,617.31]},
{"s":"H","d":351,"v":[617.44,617.15,617.55]},{"s":"H","d":352,"v":[617.38,617.71,617.25]},{"s":"H","d":353,"v":[617.48,617.19,617.52]},
{"s":"H","d":354,"v":[617.68,617.4,617.27]},{"s":"H","d":355,"v":[617.63,617.13,617.47]},{"s":"H","d":356,"v":[617.58,617.34,617.22]},
{"s":"H","d":357,"v":[617.69,617.43,617.17]},{"s":"H","d":358,"v":[617.54,617.36,617.62]},{"s":"H","d":359,"v":[617.3,617.5,617.23]},
{"s":"H","d":360,"v":[617.66,617.39,617.56]},{"s":"H","d":361,"v":[617.16,617.46,617.59]},{"s":"H","d":362,"v":[617.33,617.2,617.71]},
{"s":"H","d":363,"v":[617.37,617.53,617.26,617.02]},{"s":"H","d":364,"v":[617.61,617.31,617.44]},{"s":"H","d":365,"v":[617.15,617.55,617.38,618.07]},
{"s":"H","d":366,"v":[617.71,617.25,617.48,616.37]},{"s":"H","d":367,"v":[617.19,617.52,617.68]},{"s":"H","d":368,"v":[617.4,617.27,617.63]},
{"s":"H","d":369,"v":[617.13,617.47,617.58]},{"s":"H","d":370,"v":[617.34,617.22,617.69]},{"s":"H","d":371,"v":[617.43,617.17,615.45]},
{"s":"H","d":372,"v":[617.54,617.36]},{"s":"H","d":373,"v":[617.62,617.3]},{"s":"H","d":374,"v":[617.5,617.23]},
{"s":"H","d":375,"v":[617.66,617.39]},{"s":"H","d":376,"v":[617.56,617.16]},
{"s":"H","d":382,"v":[617.49,617.62,617.36]},{"s":"H","d":383,"v":[617.23,617.74,617.4]},{"s":"H","d":384,"v":[617.56,617.29,617.64]},
{"s":"H","d":385,"v":[617.34,617.47,617.18,615.85,615.53,615.22,614.97]},{"s":"H","d":386,"v":[617.58,617.41,617.74]},{"s":"H","d":387,"v":[617.28,617.51,617.22]},
{"s":"H","d":388,"v":[617.55,617.71,617.43]},{"s":"H","d":389,"v":[617.3,617.66,617.16]},{"s":"H","d":390,"v":[617.5,617.61,617.37]},
{"s":"H","d":391,"v":[617.25,617.72,617.46]},{"s":"H","d":392,"v":[617.2,617.57,617.39]},{"s":"H","d":393,"v":[617.65,617.33,617.53]},
{"s":"H","d":394,"v":[617.26,617.69,617.42]},{"s":"H","d":395,"v":[617.59,617.19,617.49]},{"s":"H","d":396,"v":[617.62,617.36,617.23]},
{"s":"H","d":397,"v":[617.74,617.4,617.56]},{"s":"H","d":398,"v":[617.29,617.64,617.34]},{"s":"H","d":399,"v":[617.47,617.18]},
{"s":"H","d":400,"v":[617.58,617.41]},{"s":"H","d":401,"v":[617.74,617.28,615.84]},{"s":"H","d":402,"v":[617.51,617.22]},
{"s":"H","d":403,"v":[617.55,617.71]},{"s":"H","d":404,"v":[617.43,617.3]},{"s":"H","d":405,"v":[617.66,617.16]},{"s":"H","d":406,"v":[618.08,617.87]},
{"s":"H","d":409,"v":[617.48,617.59,617.35]},{"s":"H","d":410,"v":[617.23,617.7]},{"s":"H","d":411,"v":[617.44,617.18,617.55]},
{"s":"H","d":412,"v":[617.37,617.63]},{"s":"H","d":413,"v":[617.31,617.51]},{"s":"H","d":414,"v":[617.24,617.67]},
{"s":"H","d":415,"v":[617.4,617.57]},{"s":"H","d":416,"v":[617.17,617.47]},
{"s":"H","d":420,"v":[618.72,618.46,618.33]},{"s":"H","d":421,"v":[618.82,618.48,618.64]},{"s":"H","d":422,"v":[618.36,618.71,618.41]},
{"s":"H","d":423,"v":[618.52,618.23,618.63]},{"s":"H","d":424,"v":[618.44,618.77,618.31]},{"s":"H","d":425,"v":[618.53,618.24,618.57,618.04]},
{"s":"H","d":426,"v":[618.71,618.43,618.3]},{"s":"H","d":427,"v":[618.65,618.15,618.49]},{"s":"H","d":428,"v":[618.58,618.34,618.22]},
{"s":"H","d":429,"v":[618.67,618.41,618.15]},{"s":"H","d":430,"v":[618.51,618.33,618.59,617.24]},{"s":"H","d":431,"v":[618.25,618.45,618.18]},
{"s":"H","d":432,"v":[618.6,618.33,618.5]},{"s":"H","d":433,"v":[618.08,618.38,618.51]},{"s":"H","d":434,"v":[618.24,618.11,618.62]},
{"s":"H","d":435,"v":[618.26,618.42,618.15]},{"s":"H","d":436,"v":[618.49,618.19,618.32]},
{"s":"H","d":437,"v":[617.59,618.2,617.94]},{"s":"H","d":438,"v":[618.44,617.74,618.09]},{"s":"H","d":439,"v":[617.65,618.15,618.39]},
{"s":"H","d":440,"v":[617.97,617.77,618.32]},{"s":"H","d":441,"v":[617.56,618.08,618.24]},{"s":"H","d":442,"v":[617.88,617.7,618.41]},
{"s":"H","d":443,"v":[618.02,617.62,618.18]},{"s":"H","d":444,"v":[617.91,618.3,617.82]},{"s":"H","d":445,"v":[618.13,617.72,618.37]},
{"s":"H","d":446,"v":[617.98,618.24,617.64]},{"s":"H","d":447,"v":[618.1,618.3,617.9]},{"s":"H","d":448,"v":[617.72,618.49,617.97]},
{"s":"H","d":449,"v":[618.23,617.82,618.35]},{"s":"H","d":450,"v":[617.91,618.11,617.67]},{"s":"H","d":451,"v":[618.29,618.03,618.53]},
{"s":"H","d":452,"v":[617.84,618.19,617.75]},{"s":"H","d":453,"v":[618.26,618.5,618.08]},{"s":"H","d":454,"v":[617.9,618.45,617.69]},
{"s":"H","d":455,"v":[618.22,618.38,618.02]},{"s":"H","d":456,"v":[617.85,618.56,618.17]},{"s":"H","d":457,"v":[617.78,618.34,618.07]},
{"s":"H","d":458,"v":[618.48,618.0,618.3]},{"s":"H","d":459,"v":[617.9,618.55,618.14]},{"s":"H","d":460,"v":[618.41,617.81,618.26]},
{"s":"H","d":461,"v":[618.43,618.03,617.84]},{"s":"H","d":462,"v":[618.59,618.07,618.32]},{"s":"H","d":463,"v":[617.88,618.41,617.95]},
{"s":"H","d":464,"v":[618.13,617.69,618.3]},{"s":"H","d":465,"v":[618.01,618.51,617.81]},{"s":"H","d":466,"v":[618.14,617.7,618.2]},
{"s":"H","d":467,"v":[618.41,617.99,617.79]},{"s":"H","d":468,"v":[618.32,617.56,618.08]},{"s":"H","d":469,"v":[618.21,617.85,617.67]},
{"s":"H","d":470,"v":[618.36,617.97,617.57]},{"s":"H","d":471,"v":[618.1,617.83,618.22]},{"s":"H","d":472,"v":[617.72,618.02,617.61]},
{"s":"H","d":473,"v":[617.99,617.72,617.89]},{"s":"H","d":474,"v":[617.48,617.78,617.91]},{"s":"H","d":475,"v":[617.64,617.51,618.02]},
{"s":"H","d":476,"v":[617.67,617.83,617.56]},{"s":"H","d":477,"v":[617.91,617.61,617.74]},{"s":"H","d":478,"v":[617.44,617.84,617.67]},
{"s":"H","d":479,"v":[617.99,617.53,617.76]},{"s":"H","d":480,"v":[617.46,617.79,617.95,617.0]},{"s":"H","d":481,"v":[617.66,617.53,617.89]},
{"s":"H","d":482,"v":[617.38,617.72,617.83]},{"s":"H","d":483,"v":[617.58,617.46,617.93]},{"s":"H","d":484,"v":[617.67,617.41,617.78]},
{"s":"H","d":485,"v":[617.59,617.85,617.53]},{"s":"H","d":486,"v":[617.72,617.45,617.88]},{"s":"H","d":487,"v":[617.6,617.77,617.37]},
{"s":"H","d":488,"v":[617.66,617.79,617.53]},{"s":"H","d":489,"v":[617.39,617.9,617.56]},{"s":"H","d":490,"v":[617.71,617.44,617.79]},
{"s":"H","d":491,"v":[617.48,617.61,617.32]},{"s":"H","d":492,"v":[617.72,617.55,617.88]},{"s":"H","d":493,"v":[617.41,617.64,617.35]},
{"s":"H","d":494,"v":[617.67,617.83,617.55]},{"s":"H","d":495,"v":[617.41,617.77,617.27]},{"s":"H","d":496,"v":[617.6,617.71,617.47]},
{"s":"H","d":497,"v":[617.34,617.81]},{"s":"H","d":498,"v":[617.54,617.28]},{"s":"H","d":499,"v":[617.64,617.46]},
{"s":"H","d":500,"v":[617.72,617.4]},{"s":"H","d":501,"v":[617.59,617.32]},{"s":"H","d":502,"v":[617.74]},
{"s":"H","d":506,"v":[618.82,618.99,618.59]},{"s":"H","d":507,"v":[618.87,619.0,618.74,619.13]},{"s":"H","d":508,"v":[618.58,619.09,618.75]},
{"s":"H","d":509,"v":[618.89,618.62,618.97]},{"s":"H","d":510,"v":[618.64,618.77,618.48]},{"s":"H","d":511,"v":[618.86,618.69,619.02]},
{"s":"H","d":512,"v":[618.53,618.76,618.47]},{"s":"H","d":513,"v":[618.78,618.94,618.66]},{"s":"H","d":514,"v":[618.5,618.86,618.36]},
{"s":"H","d":515,"v":[618.68,618.79,618.55,616.66]},{"s":"H","d":516,"v":[618.4,618.87,618.61]},{"s":"H","d":517,"v":[618.33,618.7]},
{"s":"H","d":518,"v":[618.49,618.75,615.84]},{"s":"H","d":519,"v":[618.41,618.61]},{"s":"H","d":520,"v":[618.31]}
]},
"layer":[
{"data":{"name":"grid"},"mark":{"type":"rule","stroke":"#1a1a1a","strokeWidth":1.2},
 "encoding":{"y":{"field":"g","type":"quantitative","scale":{"domain":[-0.95,17.6],"nice":false,"zero":false},"axis":null},
  "x":{"datum":0,"type":"quantitative","scale":{"domain":[0,535],"nice":false,"zero":false},"title":"Date"},
  "x2":{"datum":535}}},
{"data":{"values":[{"p":0,"t":14.35},{"p":535,"t":15.15}]},"mark":{"type":"rule","stroke":"#000","strokeWidth":1.3},
 "encoding":{"x":{"field":"p","type":"quantitative","scale":{"domain":[0,535],"nice":false,"zero":false},"title":"Date"},
  "y":{"field":"t","type":"quantitative","scale":{"domain":[-0.95,17.6],"nice":false,"zero":false},"axis":null},
  "y2":{"datum":-0.95}}},
{"data":{"name":"red"},"transform":[{"flatten":["v"]}],
 "mark":{"type":"point","filled":true,"stroke":"#000","strokeWidth":0.7,"opacity":1,"size":13},
 "encoding":{
  "x":{"field":"d","type":"quantitative","scale":{"domain":[0,535],"nice":false,"zero":false},"title":"Date",
   "axis":{"labels":false,"ticks":false,"domain":false,"grid":false,"titleX":253,"titleY":-7,"titleBaseline":"middle"}},
  "y":{"field":"v","type":"quantitative","scale":{"domain":[-0.95,17.6],"nice":false,"zero":false},
   "axis":{"orient":"left","values":[0,1,2,3,4,5,6,7,8,9,10,11,12,13,14,15,16],"domain":false,"ticks":false,"tickSize":0,"grid":false,"labelPadding":19,
    "title":"Core Exit DT, deg F","titleX":-30,"titleY":187,"titleAngle":-90,"titleAlign":"center","titleBaseline":"middle"}},
  "color":{"field":"s","type":"nominal","scale":{"domain":["C","H"],"range":["#ff0000","#00c000"]},
   "legend":{"title":null,"orient":"none","legendX":380,"legendY":1,"direction":"horizontal","columns":2,"strokeColor":"#000","fillColor":"#fff","padding":4,"symbolOffset":12,"columnPadding":25,"labelFontSize":7,"labelColor":"#555","symbolSize":16,"symbolStrokeColor":"#000","symbolStrokeWidth":0.7,"labelOffset":3,"labelExpr":"datum.value == 'C' ? 'Core Exit DT' : '고온관 평균온도'"}},
  "shape":{"field":"s","type":"nominal","scale":{"domain":["C","H"],"range":["square","diamond"]},
   "legend":{"title":null,"orient":"none","legendX":380,"legendY":1,"direction":"horizontal","columns":2,"strokeColor":"#000","fillColor":"#fff","padding":4,"symbolOffset":12,"columnPadding":25,"labelFontSize":7,"labelColor":"#555","symbolSize":16,"symbolStrokeColor":"#000","symbolStrokeWidth":0.7,"labelOffset":3,"labelExpr":"datum.value == 'C' ? 'Core Exit DT' : '고온관 평균온도'"}}}},
{"data":{"name":"grn"},"transform":[{"flatten":["v"]}],
 "mark":{"type":"point","filled":true,"stroke":"#002000","strokeWidth":0.7,"opacity":1,"size":14},
 "encoding":{
  "x":{"field":"d","type":"quantitative","scale":{"domain":[0,535],"nice":false,"zero":false},"title":"Date"},
  "y":{"field":"v","type":"quantitative","scale":{"domain":[614.644,621.6],"nice":false,"zero":false},
   "axis":{"orient":"right","values":[615,616,617,618,619,620,621],"domain":false,"ticks":false,"tickSize":0,"grid":false,"labelPadding":-11,
    "title":"고온관 평균온도, deg F","titleX":5,"titleY":201,"titleAngle":-90,"titleAlign":"center","titleBaseline":"middle"}},
  "color":{"field":"s","type":"nominal","scale":{"domain":["C","H"],"range":["#ff0000","#00c000"]}},
  "shape":{"field":"s","type":"nominal","scale":{"domain":["C","H"],"range":["square","diamond"]}}}}
],
"resolve":{"scale":{"y":"independent"}}
}
